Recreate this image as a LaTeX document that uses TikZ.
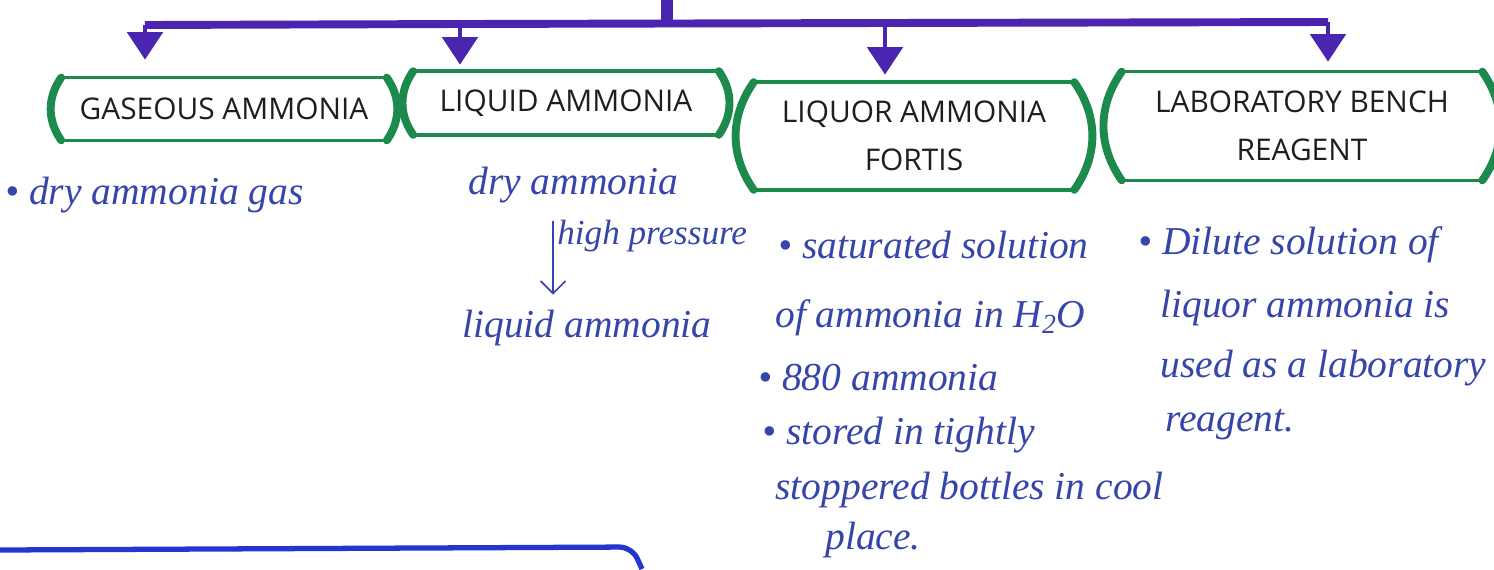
\documentclass[tikz,border=0pt]{standalone}
\usepackage{fontspec}
\newfontfamily\capsfont{Open Sans}
\newfontfamily\handfont{Liberation Serif}
\usetikzlibrary{arrows.meta, positioning, calc}
\definecolor{cpurple}{HTML}{4A25B0}
\definecolor{cgreen}{HTML}{1B8A4C}
\definecolor{cblue}{HTML}{3545AA}
\definecolor{cink}{HTML}{1E1E1E}
\definecolor{cline}{HTML}{2436D0}
\tikzset{
  kind/.style={minimum width=#1, inner sep=2pt, align=center, text=cink, font=\capsfont\fontsize{17}{27}\selectfont},
  note/.style={anchor=west, text=cblue, inner sep=0pt, font=\handfont\itshape\fontsize{22.5}{27}\selectfont},
  trunk/.style={draw=cpurple, line width=4.5pt},
  feed/.style={-{Triangle[length=0.55cm, width=0.7cm]}, draw=cpurple, line width=2.8pt, shorten >=#1},
  feed/.default=0.2cm,
  edge/.style={draw=cgreen, line width=2pt},
  rim/.style={draw=cgreen, line width=4.5pt, line cap=round},
  step arrow/.style={-{Straight Barb[length=0.25cm]}, draw=cblue, line width=1pt},
}
\begin{document}
\begin{tikzpicture}[x=0.02cm, y=-0.02cm]
  \useasboundingbox (0,0) rectangle (1494,569);
  % trunk and bar
  \coordinate (root) at (667,0);
  \coordinate (hub) at (667,24);
  \coordinate (a1) at (145,25);
  \coordinate (a2) at (460,24);
  \coordinate (a3) at (885,23);
  \coordinate (a4) at (1328,22);
  \draw[trunk, line width=6.8pt] (root) -- (hub);
  \draw[trunk] (a1) -- (a2) -- (a3) -- (a4);
  % the four kinds
  \node[kind=6.5cm, minimum height=1.24cm] (gas) at (224,109) {GASEOUS AMMONIA};
  \node[kind=6.1cm, minimum height=1.26cm] (liq) at (566,103) {LIQUID AMMONIA};
  \node[kind=6.4cm, minimum height=2.14cm] (fort) at (914,136) {LIQUOR AMMONIA\\FORTIS};
  \node[kind=7.2cm, minimum height=2.16cm] (lab) at (1302,126) {LABORATORY BENCH\\REAGENT};
  \foreach \b in {gas, liq, fort, lab} {
    \draw[edge] (\b.north west) -- (\b.north east);
    \draw[edge] (\b.south west) -- (\b.south east);
    \draw[rim] (\b.north west) to[bend right=35] (\b.south west);
    \draw[rim] (\b.north east) to[bend left=35] (\b.south east);
  }
  \draw[feed=0.36cm] (a1) -- (gas.north -| a1);
  \draw[feed=0.13cm] (a2) -- (liq.north -| a2);
  \draw[feed=0.15cm] (a3) -- (fort.north -| a3);
  \draw[feed] (a4) -- (lab.north -| a4);
  % notes
  \node[note] (g1) at (5,195) {\textbullet\ dry ammonia gas};
  \node[note] (l1) at (468,185) {dry ammonia};
  \node[note] (l2) at (462,328) {liquid ammonia};
  \coordinate (hp) at (553,0);
  \draw[step arrow] ([yshift=-0.35cm]l1.south -| hp) -- node[note, pos=0.2, xshift=2pt, font=\handfont\itshape\fontsize{20}{24}\selectfont] (l3) {high pressure} ([yshift=0.3cm]l2.north -| hp);
  \node[note] (f1) at (778,245) {\textbullet\ saturated solution};
  \node[note] (f2) at (775,318) {of ammonia in H\textsubscript{2}O};
  \node[note] (f3) at (758,378) {\textbullet\ 880 ammonia};
  \node[note] (f4) at (762,435) {\textbullet\ stored in tightly};
  \node[note] (f5) at (775,490) {stoppered bottles in cool};
  \node[note] (f6) at (825,540) {place.};
  \node[note] (b1) at (1138,245) {\textbullet\ Dilute solution of};
  \node[note] (b2) at (1160,308) {liquor ammonia is};
  \node[note] (b3) at (1160,368) {used as a laboratory};
  \node[note] (b4) at (1165,425) {reagent.};
  % next branch
  \coordinate (e1) at (0,550);
  \coordinate (e2) at (632,547);
  \coordinate (e3) at (642,569);
  \draw[draw=cline, line width=3pt, rounded corners=0.25cm] (e1) -- (e2) -- (e3);
\end{tikzpicture}
\end{document}
